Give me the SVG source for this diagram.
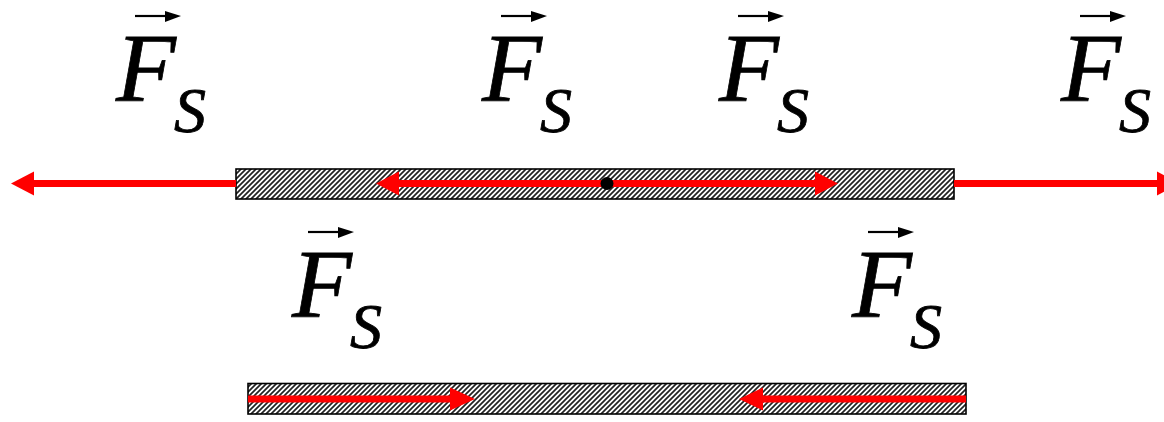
<svg xmlns="http://www.w3.org/2000/svg" width="1164" height="422" viewBox="0 0 1164 422">
<style>
.F{font-family:"Liberation Serif","Times New Roman",serif;font-size:98px;font-style:italic;fill:#000;stroke:#000;stroke-width:0.8}
.S{font-size:64px}
.vec{stroke:#000;stroke-width:2.2;fill:none}
.vh{fill:#000}
.bar{fill:url(#hatch);stroke:#000;stroke-width:1.6}
.force{stroke:#FF0000;stroke-width:7;fill:none}
.head{fill:#FF0000}
</style>
<defs>
<pattern id="hatch" patternUnits="userSpaceOnUse" width="5" height="5">
<rect width="5" height="5" fill="#fff"/>
<path d="M-1,6 L6,-1 M-1,1 L1,-1 M4,6 L6,4" stroke="#222" stroke-width="1.7"/>
</pattern>
</defs>
<g id="bar-top"><rect class="bar" x="236" y="169" width="718" height="30"/></g>
<g id="bar-bottom"><rect class="bar" x="248" y="383.5" width="718" height="30.5"/></g>
<g id="connectors">
<line class="force" x1="236" y1="183.5" x2="32" y2="183.5"/>
<polygon class="head" points="34,171.5 11,183.5 34,195.5"/>
<line class="force" x1="954" y1="183.5" x2="1159" y2="183.5"/>
<polygon class="head" points="1157,171.5 1180,183.5 1157,195.5"/>
<line class="force" x1="607" y1="183.5" x2="397" y2="183.5"/>
<polygon class="head" points="399,171.5 376,183.5 399,195.5"/>
<line class="force" x1="607" y1="183.5" x2="817" y2="183.5"/>
<polygon class="head" points="815,171.5 838,183.5 815,195.5"/>
<line class="force" x1="248" y1="399" x2="452" y2="399"/>
<polygon class="head" points="450,387.5 475,399 450,410.5"/>
<line class="force" x1="966" y1="399" x2="761" y2="399"/>
<polygon class="head" points="763,387.5 739,399 763,410.5"/>
</g>
<g id="center-dot"><circle cx="607" cy="183.5" r="6.5" fill="#000"/></g>
<g id="label-1">
<text class="F" x="116" y="101">F<tspan class="S" dx="-2" dy="31">S</tspan></text>
<line class="vec" x1="135" y1="16" x2="167" y2="16"/><polygon class="vh" points="165,11 181,16 165,22"/>
</g>
<g id="label-2">
<text class="F" x="482" y="101">F<tspan class="S" dx="-2" dy="31">S</tspan></text>
<line class="vec" x1="501" y1="16" x2="533" y2="16"/><polygon class="vh" points="531,11 547,16 531,22"/>
</g>
<g id="label-3">
<text class="F" x="719" y="101">F<tspan class="S" dx="-2" dy="31">S</tspan></text>
<line class="vec" x1="738" y1="16" x2="770" y2="16"/><polygon class="vh" points="768,11 784,16 768,22"/>
</g>
<g id="label-4">
<text class="F" x="1061" y="101">F<tspan class="S" dx="-2" dy="31">S</tspan></text>
<line class="vec" x1="1080" y1="16" x2="1112" y2="16"/><polygon class="vh" points="1110,11 1126,16 1110,22"/>
</g>
<g id="label-5">
<text class="F" x="292" y="317">F<tspan class="S" dx="-2" dy="31">S</tspan></text>
<line class="vec" x1="308" y1="232" x2="340" y2="232"/><polygon class="vh" points="338,227 354,232 338,238"/>
</g>
<g id="label-6">
<text class="F" x="852" y="317">F<tspan class="S" dx="-2" dy="31">S</tspan></text>
<line class="vec" x1="868" y1="232" x2="900" y2="232"/><polygon class="vh" points="898,227 914,232 898,238"/>
</g>
</svg>
